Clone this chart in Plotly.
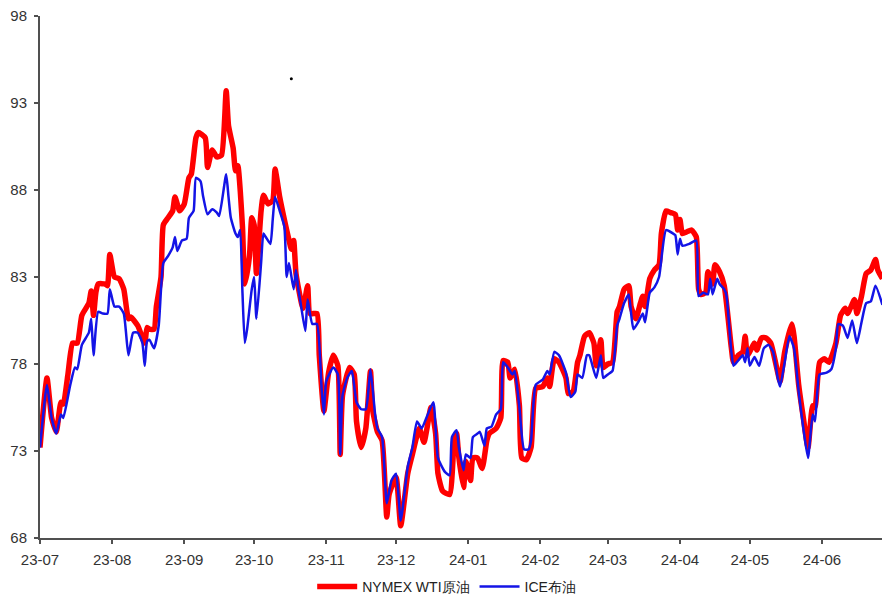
import pandas as pd
import plotly.graph_objects as go

START = "2023-07-01"

# NYMEX WTI (day offsets from 2023-07-01, price)
wti_day = [0,3,5,7,9,10,12,14,16,18,21,22,23,24,25,28,29,30,32,34,36,38,39,42,45,46,47,49,50,52,
           53,55,57,58,60,62,64,65,67,68,71,72,74,76,78,80,81,83,84,85,87,88,90,91,92,93,95,96,98,100,
           101,103,105,107,108,109,110,113,115,116,119,120,122,124,126,128,129,130,133,135,136,138,140,142,143,145,147,149,150,153,
           155,158,160,163,165,168,170,171,173,176,178,179,180,182,183,185,186,188,190,192,193,196,198,199,201,202,204,206,207,209,
           211,213,216,218,219,221,223,226,227,229,231,232,234,236,238,239,241,242,244,246,248,249,251,253,254,256,258,259,260,262,
           264,266,267,269,271,273,274,275,276,278,280,282,283,284,286,287,289,290,292,294,297,298,300,302,303,304,307,308,310,312,
           314,317,318,320,323,324,326,328,330,332,333,335,337,339,342,344,346,347,350,351,353,355,357,359,360,362]
wti_val = [73.2,77.2,74.9,74.1,75.8,75.7,77.4,79.2,79.2,80.8,81.5,82.2,80.8,82.1,82.6,82.6,82.5,84.3,83.0,82.9,82.3,80.6,80.7,80.2,79.2,80.1,80.0,80.0,81.3,83.0,
           86.0,86.4,86.8,87.6,86.8,87.2,88.7,88.9,91.0,91.3,91.0,89.3,90.3,89.9,90.0,93.7,91.7,90.4,89.1,89.4,85.9,82.6,84.2,86.4,86.0,83.2,86.8,87.7,87.2,87.4,
           89.2,87.6,86.3,85.1,84.6,85.1,83.2,81.2,82.5,80.9,80.9,78.5,75.3,77.5,78.5,77.9,72.8,76.2,77.8,77.4,74.7,73.2,74.3,77.6,75.3,74.1,73.6,69.2,70.5,71.5,
           68.7,71.7,72.8,74.3,73.5,75.5,74.0,71.7,70.7,70.5,73.6,74.0,72.6,70.9,72.4,71.3,72.6,72.6,72.0,73.6,74.0,74.3,74.9,78.2,78.1,77.2,77.7,75.6,72.6,72.5,
           73.2,76.6,76.7,77.2,76.7,78.3,78.1,77.2,76.3,76.4,78.1,78.5,79.6,79.8,79.2,77.9,79.4,77.8,78.0,78.1,81.0,81.3,82.3,82.5,81.3,80.6,81.5,81.9,81.3,82.9,
           83.4,83.7,85.5,86.8,86.7,86.6,85.7,86.3,85.5,85.6,85.7,85.3,82.3,82.0,82.1,83.3,82.6,83.7,83.3,82.5,79.0,78.1,78.5,78.7,79.6,78.5,79.2,78.8,79.5,79.5,
           79.2,77.5,77.0,78.7,80.3,79.6,76.8,74.9,73.2,75.6,75.5,78.1,78.3,78.1,79.2,80.8,81.2,80.9,81.7,80.9,81.9,83.2,83.4,84.0,83.4,82.9]

# ICE Brent
ice_day = [0,3,5,7,9,10,13,15,16,18,21,22,23,25,27,29,30,32,34,36,38,40,42,44,45,46,47,49,51,53,
           55,57,58,59,61,63,64,66,67,69,70,72,74,76,77,80,81,82,84,85,86,87,88,89,91,92,93,95,96,97,
           99,100,101,103,105,106,107,109,110,111,112,114,115,117,119,121,122,123,126,128,129,130,132,134,136,138,140,142,144,145,
           147,149,151,153,155,158,160,162,164,166,169,171,174,176,177,179,180,182,183,185,186,188,189,191,192,194,196,198,199,201,
           203,204,206,208,210,211,213,216,218,219,221,223,226,228,230,231,233,235,236,239,241,242,244,246,248,249,251,253,254,255,
           257,259,260,262,264,266,269,272,273,274,275,276,279,282,283,285,287,288,289,291,292,294,295,297,298,300,302,303,304,305,
           307,309,311,313,315,317,318,320,322,324,326,328,330,332,333,335,338,340,342,343,345,347,349,351,353,355,357,359,362]
ice_val = [73.2,76.8,74.9,74.0,75.1,74.9,76.8,77.8,77.7,79.1,79.8,80.6,78.5,81.0,80.9,80.9,82.3,81.3,81.3,80.9,78.5,79.8,79.8,79.2,77.9,79.3,79.4,78.9,80.2,83.8,
           84.2,84.7,85.3,84.5,85.1,85.2,86.4,86.8,88.7,88.5,87.7,86.6,86.9,86.7,86.5,88.9,87.6,86.4,85.5,85.3,85.7,82.1,79.2,80.0,82.3,83.0,80.6,83.8,85.5,85.3,
           84.9,86.3,87.6,86.8,85.9,83.0,83.8,82.3,83.4,82.3,81.5,79.9,81.7,80.3,80.3,76.6,75.1,77.0,77.8,77.4,72.8,76.2,77.2,77.6,75.8,75.4,75.4,77.7,75.1,74.3,
           73.8,70.0,71.3,71.7,69.0,72.1,73.2,74.7,74.3,74.9,75.8,72.6,71.8,71.6,73.8,74.2,73.2,71.9,72.8,72.6,73.8,74.0,74.1,73.3,74.3,74.4,75.1,75.4,78.1,77.8,
           77.4,77.6,75.5,73.1,73.1,73.6,76.8,77.1,77.6,77.4,78.7,78.5,77.5,76.1,76.4,77.4,77.2,78.5,78.5,77.2,78.5,77.2,77.4,77.6,80.2,80.6,81.5,82.0,80.9,80.0,
           80.4,80.9,80.4,82.1,82.4,83.0,85.7,85.5,85.4,84.3,85.2,84.8,84.9,85.1,81.9,82.1,82.0,82.9,82.0,82.9,82.6,82.3,81.9,78.8,77.9,78.2,78.5,78.1,78.9,77.9,
           78.4,77.9,78.9,79.1,78.7,77.2,76.7,78.1,79.6,78.9,76.4,74.3,72.6,75.1,74.7,77.4,77.5,77.7,78.9,80.3,80.2,79.5,80.5,79.2,80.4,81.5,81.6,82.5,81.4]

# stray dot present in the reference
dot_day = [108]
dot_val = [94.4]

y_ticks = [68, 73, 78, 83, 88, 93, 98]

def to_dates(days):
    return pd.Timestamp(START) + pd.to_timedelta(days, unit="D")

FONT = "Liberation Sans, Arial, sans-serif"

fig = go.Figure()
fig.add_trace(go.Scatter(x=to_dates(wti_day), y=wti_val, mode="lines", name="NYMEX WTI原油",
                         line=dict(color="#FF0000", width=5.5, shape="spline", smoothing=0.5)))
fig.add_trace(go.Scatter(x=to_dates(ice_day), y=ice_val, mode="lines", name="ICE布油",
                         line=dict(color="#1414E6", width=2.5, shape="spline", smoothing=0.5)))
fig.add_trace(go.Scatter(x=to_dates(dot_day), y=dot_val, mode="markers", showlegend=False,
                         marker=dict(color="black", size=3), hoverinfo="skip"))

fig.update_layout(
    width=882, height=603,
    margin=dict(l=40, r=0, t=16, b=58),
    plot_bgcolor="white", paper_bgcolor="white",
    font=dict(family=FONT, size=15, color="#333333"),
    showlegend=True,
    legend=dict(orientation="h", x=0.483, xanchor="center", y=-0.094, yanchor="middle",
                font=dict(family=FONT, size=14, color="#222222"), itemwidth=40,
                tracegroupgap=0),
)
fig.update_xaxes(
    type="date",
    range=[to_dates([0])[0], to_dates([361.8])[0]],
    tickformat="%y-%m", dtick="M1", tick0=START,
    showgrid=False, zeroline=False,
    showline=True, linecolor="#505050", linewidth=2,
    ticks="outside", ticklen=4, tickcolor="#505050", tickwidth=1.5,
    ticklabelstandoff=3,
    tickfont=dict(family=FONT, size=15, color="#333333"),
)
fig.update_yaxes(
    range=[68, 98], tickvals=y_ticks, ticktext=[str(v) for v in y_ticks],
    showgrid=False, zeroline=False,
    showline=True, linecolor="#505050", linewidth=2,
    ticks="outside", ticklen=4, tickcolor="#505050", tickwidth=1.5,
    ticklabelstandoff=4,
    tickfont=dict(family=FONT, size=15, color="#333333"),
)

fig.write_html("out.html")
